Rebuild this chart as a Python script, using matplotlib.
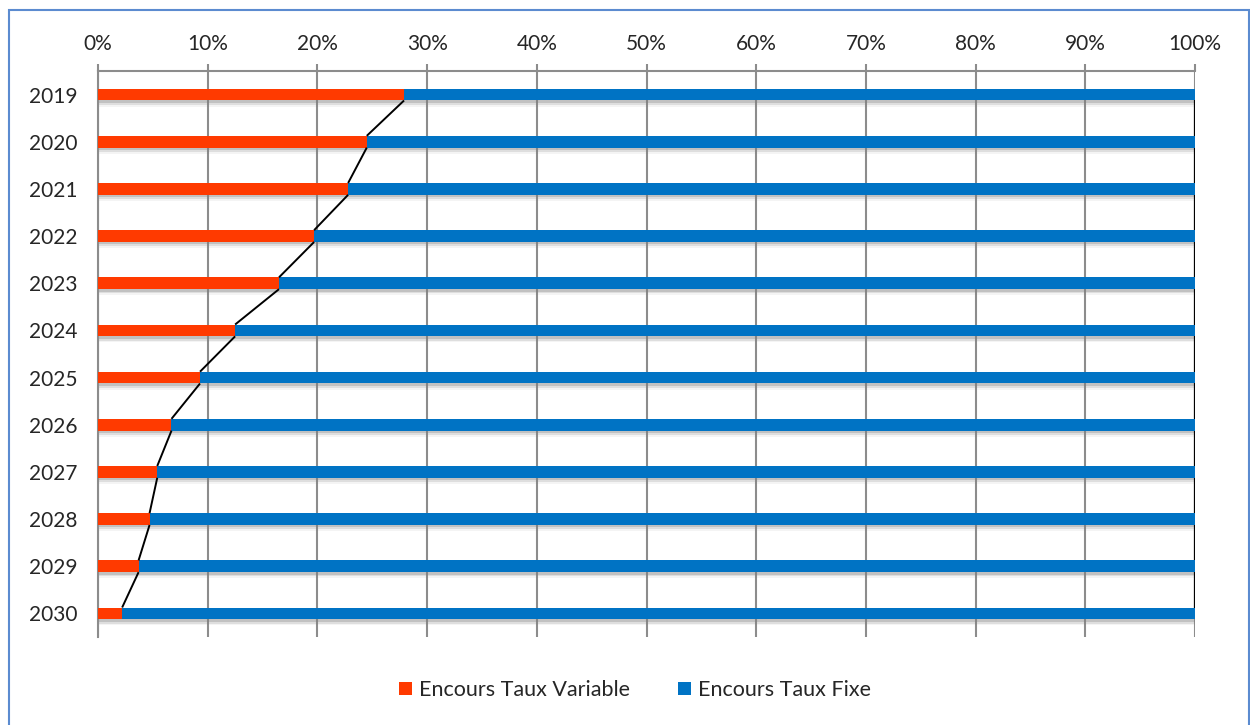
import matplotlib
matplotlib.use("Agg")
import matplotlib.pyplot as plt
from matplotlib.patches import Rectangle
import numpy as np

plt.rcParams['font.family'] = ['Lato', 'DejaVu Sans']

years = ['2019', '2020', '2021', '2022', '2023', '2024',
         '2025', '2026', '2027', '2028', '2029', '2030']
taux_variable = [27.9, 24.5, 22.8, 19.7, 16.5, 12.5, 9.3, 6.7, 5.4, 4.7, 3.7, 2.2]
taux_fixe = [100 - v for v in taux_variable]
series_labels = ['Encours Taux Variable', 'Encours Taux Fixe']
x_ticks = list(range(0, 101, 10))

col_var = '#FF3A00'
col_fix = '#0073C4'
grid_col = '#8C8C8C'

fig = plt.figure(figsize=(12.5, 7.25), dpi=100)
ax = fig.add_axes([98 / 1250, 1 - 637 / 725, (1195 - 98) / 1250, (637 - 71) / 725])

y = np.arange(len(years))
h = 0.25

# soft drop shadow under each bar
for off, a in [(0.05, 0.30), (0.09, 0.18), (0.13, 0.08)]:
    ax.barh(y + off, [100] * len(y), height=h, color='#7F7F7F', alpha=a,
            linewidth=0, zorder=2)

ax.barh(y, taux_variable, height=h, color=col_var, linewidth=0, zorder=3,
        label=series_labels[0])
ax.barh(y, taux_fixe, left=taux_variable, height=h, color=col_fix, linewidth=0,
        zorder=3, label=series_labels[1])

# series lines joining segment ends between consecutive bars
ends_var = np.array(taux_variable)
ends_tot = ends_var + np.array(taux_fixe)
for i in range(len(y) - 1):
    ax.plot([ends_var[i], ends_var[i + 1]], [y[i] + h / 2, y[i + 1] - h / 2],
            color='black', lw=1.4, zorder=4, solid_capstyle='butt')
    ax.plot([ends_tot[i], ends_tot[i + 1]], [y[i] + h / 2, y[i + 1] - h / 2],
            color='black', lw=1.6, zorder=4, solid_capstyle='butt')

ax.set_xlim(0, 100)
ax.set_ylim(len(years) - 0.5, -0.5)
ax.set_yticks(y)
ax.set_yticklabels(years)
ax.set_xticks(x_ticks)
ax.set_xticklabels([f'{t}%' for t in x_ticks])
ax.xaxis.tick_top()
ax.tick_params(axis='x', length=5, width=1.5, color=grid_col, pad=7,
               labelsize=15, labelcolor='#262626')
ax.tick_params(axis='y', length=0, pad=15, labelsize=15, labelcolor='#262626')

ax.grid(axis='x', color=grid_col, lw=1.5, zorder=1)
ax.set_axisbelow(True)
for s in ['right', 'bottom']:
    ax.spines[s].set_visible(False)
for s in ['top', 'left']:
    ax.spines[s].set_color(grid_col)
    ax.spines[s].set_linewidth(1.5)

leg = fig.legend(loc='center', bbox_to_anchor=(635 / 1250, 1 - 690 / 725),
                 ncol=2, frameon=False, fontsize=15.5, handlelength=0.6,
                 handleheight=0.6, handletextpad=0.35, columnspacing=2.2)
for t in leg.get_texts():
    t.set_color('#262626')

# chart area border
fig.patches.append(Rectangle((9 / 1250, -0.05), (1249 - 9) / 1250, 1.05 - 10 / 725,
                             transform=fig.transFigure, fill=False,
                             edgecolor='#5B8BD0', lw=1.5))

fig.savefig('out.png', dpi=100, facecolor='white')
